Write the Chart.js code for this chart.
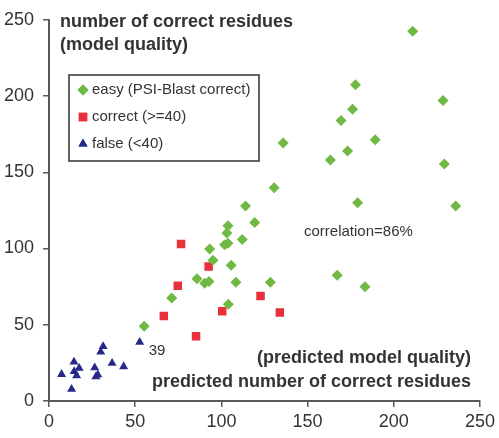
<!DOCTYPE html>
<html lang="en">
<head>
    <meta charset="UTF-8">
    <title>Predicted vs correct residues</title>
    <script src="https://cdn.jsdelivr.net/npm/chart.js@4.4.1/dist/chart.umd.min.js"></script>
    <style>
        html, body { margin: 0; padding: 0; background: #fff; }
        #wrap { width: 499px; height: 438px; }
    </style>
</head>
<body>
    <div id="wrap"><canvas id="plot" width="499" height="438"></canvas></div>

    <script>
        // values
        const easyX = [211, 177.8, 228.6, 176.1, 169.4, 135.8, 189.2, 173.2, 163.2, 229.3, 130.6, 179, 235.9,
                       114, 119.3, 103.8, 103.2, 112.1, 103.8, 101.9, 93.2, 95.1, 105.7, 167.2, 128.4, 183.3,
                       85.8, 90.3, 92.8, 108.4, 71.2, 104, 55.2];
        const easyY = [242.5, 207.4, 197.1, 191.4, 184, 169.2, 171.4, 163.9, 158.1, 155.4, 139.8, 130, 127.9,
                       127.9, 117, 115, 110.2, 105.9, 103.4, 102.5, 99.7, 92.3, 89.1, 82.5, 77.9, 75,
                       80.1, 77.2, 78.4, 77.8, 67.5, 63.5, 49];
        const correctX = [76.6, 92.6, 74.7, 122.7, 100.5, 133.9, 66.6, 85.3];
        const correctY = [102.9, 88.2, 75.6, 68.9, 58.8, 58, 55.8, 42.4];
        const falseX = [52.6, 31.4, 30.0, 14.5, 36.6, 43.3, 7.3, 17.5, 14.6, 16.0, 26.5, 28.3, 27.2, 13.1];
        const falseY = [38.6, 35.8, 32.2, 25.6, 24.8, 22.6, 17.5, 21.5, 19.4, 16.6, 21.9, 17.2, 16.0, 7.7];
        const falseNotes = ['39'];   // note on the first "false" point

        const seriesNames = ['easy (PSI-Blast correct)', 'correct (>=40)', 'false (<40)'];
        const axisTicks = [0, 50, 100, 150, 200, 250];

        const ink = '#333333';
        const axisGray = '#595959';

        function pts(xs, ys) {
            return xs.map((x, i) => ({ x: x, y: ys[i] }));
        }

        // free text, legend box and the point note
        const decorations = {
            id: 'decorations',
            afterDatasetsDraw(chart) {
                const c = chart.ctx;
                c.save();
                c.fillStyle = ink;
                c.textBaseline = 'middle';

                c.font = 'bold 18px Arial, "Liberation Sans", sans-serif';
                c.textAlign = 'left';
                c.fillText('number of correct residues', 60, 22);
                c.fillText('(model quality)', 60, 45);
                c.textAlign = 'right';
                c.fillText('(predicted model quality)', 471, 358);
                c.fillText('predicted number of correct residues', 471, 382);

                c.font = '15px Arial, "Liberation Sans", sans-serif';
                c.textAlign = 'left';
                c.fillText('correlation=86%', 304, 232);

                // note next to the labelled triangle
                const p = chart.getDatasetMeta(2).data[0];
                c.fillText(falseNotes[0], p.x + 9, p.y + 9);

                // legend
                c.strokeStyle = ink;
                c.lineWidth = 1.5;
                c.strokeRect(69, 75, 190, 86);
                const rows = [90, 117, 144];
                chart.data.datasets.forEach((ds, i) => {
                    c.fillStyle = ds.backgroundColor;
                    Chart.helpers.drawPoint(c, {
                        pointStyle: ds.pointStyle,
                        radius: ds.pointRadius,
                        rotation: 0,
                        borderWidth: 0
                    }, 83, rows[i]);
                    c.fill();
                    c.fillStyle = ink;
                    c.fillText(seriesNames[i], 92, rows[i]);
                });
                c.restore();
            }
        };

        const tickFont = { family: 'Arial, "Liberation Sans", sans-serif', size: 18 };

        new Chart(document.getElementById('plot'), {
            type: 'scatter',
            data: {
                datasets: [
                    {
                        label: seriesNames[0],
                        data: pts(easyX, easyY),
                        pointStyle: 'rectRot',
                        pointRadius: 5.5,
                        backgroundColor: '#70b945',
                        borderWidth: 0
                    },
                    {
                        label: seriesNames[1],
                        data: pts(correctX, correctY),
                        pointStyle: 'rect',
                        pointRadius: 6,
                        backgroundColor: '#e8313a',
                        borderWidth: 0
                    },
                    {
                        label: seriesNames[2],
                        data: pts(falseX, falseY),
                        pointStyle: 'triangle',
                        pointRadius: 5.2,
                        backgroundColor: '#26288a',
                        borderWidth: 0
                    }
                ]
            },
            options: {
                responsive: false,
                animation: false,
                devicePixelRatio: 1,
                layout: { padding: { left: 0, right: 18, top: 10, bottom: 0 } },
                plugins: {
                    legend: { display: false },
                    tooltip: { enabled: false }
                },
                scales: {
                    x: {
                        type: 'linear',
                        min: 0,
                        max: 250,
                        afterBuildTicks: s => { s.ticks = axisTicks.map(v => ({ value: v })); },
                        afterFit: s => { s.height = 37; },
                        grid: { drawOnChartArea: false, tickLength: 6, color: axisGray, lineWidth: 1.5 },
                        border: { color: axisGray, width: 2 },
                        ticks: { color: ink, font: tickFont, padding: 4, maxRotation: 0 }
                    },
                    y: {
                        type: 'linear',
                        min: 0,
                        max: 250,
                        afterBuildTicks: s => { s.ticks = axisTicks.map(v => ({ value: v })); },
                        afterFit: s => { s.width = 49; },
                        grid: { drawOnChartArea: false, tickLength: 6, color: axisGray, lineWidth: 1.5 },
                        border: { color: axisGray, width: 2 },
                        ticks: { color: ink, font: tickFont, padding: 9 }
                    }
                }
            },
            plugins: [decorations]
        });
    </script>
</body>
</html>
